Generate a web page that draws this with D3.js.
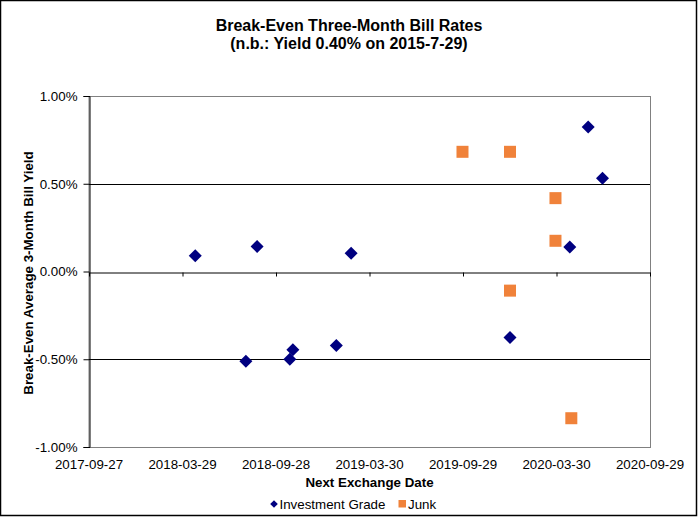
<!DOCTYPE html>
<html><head><meta charset="utf-8">
<script src="https://cdn.jsdelivr.net/npm/d3@7"></script>
<style>
body{margin:0;background:#fff;}
svg{display:block;font-family:"Liberation Sans",Arial,sans-serif;}
</style></head>
<body><svg id="c" width="698" height="517"></svg>
<script>
const titleLines = ["Break-Even Three-Month Bill Rates", "(n.b.: Yield 0.40% on 2015-7-29)"];
const xTickLabels = ["2017-09-27","2018-03-29","2018-09-28","2019-03-30","2019-09-29","2020-03-30","2020-09-29"];
const yTickValues = [-0.01,-0.005,0,0.005,0.01];
const gridValues = [-0.005, 0.005];
const igDates = ["2018-04-23","2018-08-22","2019-02-22","2018-07-31","2018-10-25","2018-10-31","2019-01-24","2020-05-31","2020-06-28","2020-04-25","2019-12-30"];
const igValues = [0.0009,0.00143,0.00104,-0.00512,-0.0050,-0.00446,-0.00421,0.00823,0.00531,0.0014,-0.00376];
const junkDates = ["2019-09-28","2019-12-30","2020-03-28","2020-03-28","2019-12-30","2020-04-28"];
const junkValues = [0.00682,0.00682,0.00418,0.00175,-0.00109,-0.00836];
const seriesNames = ["Investment Grade","Junk"];

const parse = d3.utcParse("%Y-%m-%d");
const svg = d3.select("#c");
const L=89, R=650, T=96, B=447;
const FS = "13.33px";
const x = d3.scaleUtc().domain([parse(xTickLabels[0]), parse(xTickLabels[xTickLabels.length-1])]).range([L,R]);
const y = d3.scaleLinear().domain([-0.01,0.01]).range([B,T]);

// outer border
svg.append("rect").attr("x",0.5).attr("y",0.5).attr("width",696).attr("height",515)
  .attr("fill","#fff").attr("stroke","#000").attr("stroke-width",1.5);

// title
svg.append("text").attr("x",349).attr("y",31).attr("text-anchor","middle")
  .attr("font-weight","bold").attr("font-size","16px").text(titleLines[0]);
svg.append("text").attr("x",349).attr("y",49).attr("text-anchor","middle")
  .attr("font-weight","bold").attr("font-size","16px").text(titleLines[1]);

// plot border (gray)
svg.append("rect").attr("x",L).attr("y",T+0.5).attr("width",R-L+0.5).attr("height",B-T)
  .attr("fill","none").attr("stroke","#808080").attr("stroke-width",1);

// gridlines
svg.selectAll(".grid").data(gridValues).enter().append("line")
  .attr("x1",L).attr("x2",R).attr("y1",d=>Math.round(y(d))+0.5).attr("y2",d=>Math.round(y(d))+0.5)
  .attr("stroke","#000").attr("stroke-width",1);

// y axis
const pct = d3.format(".2%");
const yAxis = d3.axisLeft(y).tickValues(yTickValues).tickFormat(d=>pct(d).replace("\u2212","-")).tickSize(6).tickPadding(6);
const gy = svg.append("g").attr("transform",`translate(${L+0.5},0)`).call(yAxis);
gy.selectAll("text").attr("font-size",FS).attr("fill","#000").attr("font-family","Liberation Sans, Arial, sans-serif");
gy.selectAll("line,path").attr("stroke","#000");

// x axis at zero
const y0 = Math.round(y(0))+0.5;
const xAxis = d3.axisBottom(x).tickValues(xTickLabels.map(parse)).tickFormat("").tickSizeInner(4).tickSizeOuter(0);
const gx = svg.append("g").attr("transform",`translate(0,${y0})`).call(xAxis);
gx.selectAll("line,path").attr("stroke","#000");
// x tick labels at bottom
svg.selectAll(".xl").data(xTickLabels).enter().append("text")
  .attr("x",d=>x(parse(d))).attr("y",468.5).attr("text-anchor","middle")
  .attr("font-size",FS).text(d=>d);

// axis titles
svg.append("text").attr("x",(L+R)/2).attr("y",487).attr("text-anchor","middle")
  .attr("font-weight","bold").attr("font-size",FS).text("Next Exchange Date");
svg.append("text").attr("transform","translate(33,273) rotate(-90)").attr("text-anchor","middle")
  .attr("font-weight","bold").attr("font-size",FS).text("Break-Even Average 3-Month Bill Yield");

// markers
const diamond = (cx,cy,r)=>`M${cx},${cy-r}L${cx+r},${cy}L${cx},${cy+r}L${cx-r},${cy}Z`;
const navy="#000080", orange="#F0823A";
svg.selectAll(".ig").data(igDates.map((d,i)=>[parse(d),igValues[i]])).enter().append("path")
  .attr("d",d=>diamond(x(d[0]),y(d[1]),6.5)).attr("fill",navy);
svg.selectAll(".jk").data(junkDates.map((d,i)=>[parse(d),junkValues[i]])).enter().append("rect")
  .attr("x",d=>x(d[0])-6).attr("y",d=>y(d[1])-6).attr("width",12).attr("height",12).attr("fill",orange);

// legend
svg.append("path").attr("d",diamond(274,504,3.8)).attr("fill",navy);
svg.append("text").attr("x",279.5).attr("y",508.5).attr("font-size",FS).text(seriesNames[0]);
svg.append("rect").attr("x",398.5).attr("y",500).attr("width",7.5).attr("height",7.5).attr("fill",orange);
svg.append("text").attr("x",408).attr("y",508.5).attr("font-size",FS).text(seriesNames[1]);
</script></body></html>
